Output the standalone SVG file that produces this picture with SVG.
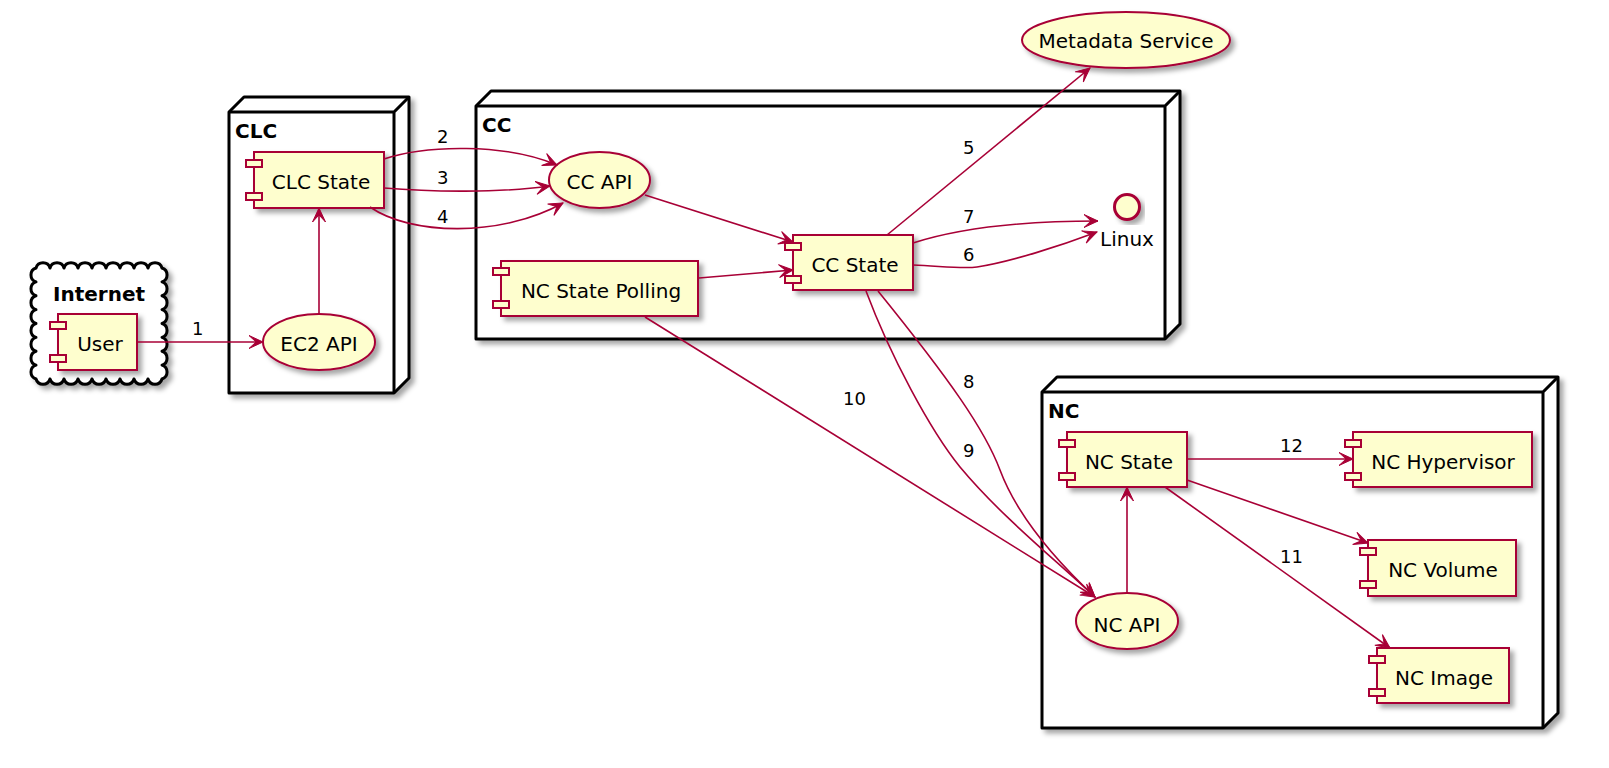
<svg xmlns="http://www.w3.org/2000/svg" width="1609" height="768" viewBox="0 0 1609 768">
<style>
text{font-family:"DejaVu Sans","Liberation Sans",sans-serif;font-size:20px;fill:#000}
.t{text-anchor:middle}
.b{font-weight:bold}
.l{font-size:18px}
.node{fill:#fff;stroke:#000;stroke-width:3;stroke-linejoin:round}
.nl{fill:none;stroke:#000;stroke-width:3}
.c{fill:#FEFECE;stroke:#A80036;stroke-width:2}
.e{fill:none;stroke:#A80036;stroke-width:1.6}
</style>
<defs>
<filter id="sh" x="-20%" y="-20%" width="140%" height="140%">
<feDropShadow dx="4" dy="4" stdDeviation="2.5" flood-color="#000" flood-opacity="0.35"/>
</filter>
<marker id="ah" markerUnits="userSpaceOnUse" markerWidth="16" markerHeight="16" refX="15" refY="8" orient="auto">
<path d="M15,8 L1,1.5 L8,8 L1,14.5 Z" fill="#A80036" stroke="#A80036" stroke-width="1"/>
</marker>
</defs>

<g id="Internet">
<path class="node" filter="url(#sh)" d="M36,268 a7.3,7.3 0 0 1 14,0 a7.3,7.3 0 0 1 14,0 a7.3,7.3 0 0 1 14,0 a7.3,7.3 0 0 1 14,0 a7.3,7.3 0 0 1 14,0 a7.3,7.3 0 0 1 14,0 a7.3,7.3 0 0 1 14,0 a7.3,7.3 0 0 1 14,0 a7.3,7.3 0 0 1 14,0 a7.3,7.3 0 0 1 0,13.875 a7.3,7.3 0 0 1 0,13.875 a7.3,7.3 0 0 1 0,13.875 a7.3,7.3 0 0 1 0,13.875 a7.3,7.3 0 0 1 0,13.875 a7.3,7.3 0 0 1 0,13.875 a7.3,7.3 0 0 1 0,13.875 a7.3,7.3 0 0 1 0,13.875 a7.3,7.3 0 0 1 -14,0 a7.3,7.3 0 0 1 -14,0 a7.3,7.3 0 0 1 -14,0 a7.3,7.3 0 0 1 -14,0 a7.3,7.3 0 0 1 -14,0 a7.3,7.3 0 0 1 -14,0 a7.3,7.3 0 0 1 -14,0 a7.3,7.3 0 0 1 -14,0 a7.3,7.3 0 0 1 -14,0 a7.3,7.3 0 0 1 0,-13.875 a7.3,7.3 0 0 1 0,-13.875 a7.3,7.3 0 0 1 0,-13.875 a7.3,7.3 0 0 1 0,-13.875 a7.3,7.3 0 0 1 0,-13.875 a7.3,7.3 0 0 1 0,-13.875 a7.3,7.3 0 0 1 0,-13.875 a7.3,7.3 0 0 1 0,-13.875 Z"/>
<text class="t b" x="99" y="301">Internet</text>
</g>

<g id="CLC">
<path class="node" filter="url(#sh)" d="M229,112 L244,97 L409,97 L409,378 L394,393 L229,393 Z"/>
<path class="nl" d="M229,112 L394,112 L409,97 M394,112 L394,393"/>
<text class="b" x="235" y="138">CLC</text>
</g>

<g id="CC">
<path class="node" filter="url(#sh)" d="M476,106 L491,91 L1180,91 L1180,324 L1165,339 L476,339 Z"/>
<path class="nl" d="M476,106 L1165,106 L1180,91 M1165,106 L1165,339"/>
<text class="b" x="482" y="132">CC</text>
</g>

<g id="NC">
<path class="node" filter="url(#sh)" d="M1042,392 L1057,377 L1558,377 L1558,713 L1543,728 L1042,728 Z"/>
<path class="nl" d="M1042,392 L1543,392 L1558,377 M1543,392 L1543,728"/>
<text class="b" x="1048" y="418">NC</text>
</g>

<g id="User">
<rect class="c" filter="url(#sh)" x="58" y="314" width="79" height="56"/>
<rect class="c" x="50" y="322" width="16" height="7"/>
<rect class="c" x="50" y="355" width="16" height="7"/>
<text class="t" x="100" y="351">User</text>
</g>

<g id="EC2API">
<ellipse class="c" filter="url(#sh)" cx="319" cy="342" rx="56" ry="28"/>
<text class="t" x="319" y="351">EC2 API</text>
</g>

<g id="CLCState">
<rect class="c" filter="url(#sh)" x="254" y="152" width="130" height="56"/>
<rect class="c" x="246" y="160" width="16" height="7"/>
<rect class="c" x="246" y="193" width="16" height="7"/>
<text class="t" x="321" y="189">CLC State</text>
</g>

<g id="CCAPI">
<ellipse class="c" filter="url(#sh)" cx="599.5" cy="180" rx="50.5" ry="28"/>
<text class="t" x="599.5" y="189">CC API</text>
</g>

<g id="NCStatePolling">
<rect class="c" filter="url(#sh)" x="501" y="261" width="197" height="55"/>
<rect class="c" x="493" y="268" width="16" height="7"/>
<rect class="c" x="493" y="301" width="16" height="7"/>
<text class="t" x="601" y="298">NC State Polling</text>
</g>

<g id="CCState">
<rect class="c" filter="url(#sh)" x="793" y="235" width="120" height="55"/>
<rect class="c" x="785" y="243" width="16" height="7"/>
<rect class="c" x="785" y="276" width="16" height="7"/>
<text class="t" x="855" y="272">CC State</text>
</g>

<g id="Linux">
<circle class="c" filter="url(#sh)" cx="1127" cy="207" r="12.5" style="stroke-width:3"/>
<text class="t" x="1127" y="246">Linux</text>
</g>

<g id="MetadataService">
<ellipse class="c" filter="url(#sh)" cx="1126" cy="40" rx="104" ry="28"/>
<text class="t" x="1126" y="48">Metadata Service</text>
</g>

<g id="NCState">
<rect class="c" filter="url(#sh)" x="1067" y="432" width="120" height="55"/>
<rect class="c" x="1059" y="440" width="16" height="7"/>
<rect class="c" x="1059" y="473" width="16" height="7"/>
<text class="t" x="1129" y="469">NC State</text>
</g>

<g id="NCAPI">
<ellipse class="c" filter="url(#sh)" cx="1127" cy="621" rx="51" ry="28"/>
<text class="t" x="1127" y="632">NC API</text>
</g>

<g id="NCHypervisor">
<rect class="c" filter="url(#sh)" x="1353" y="432" width="179" height="55"/>
<rect class="c" x="1345" y="440" width="16" height="7"/>
<rect class="c" x="1345" y="473" width="16" height="7"/>
<text class="t" x="1443" y="469">NC Hypervisor</text>
</g>

<g id="NCVolume">
<rect class="c" filter="url(#sh)" x="1368" y="540" width="148" height="56"/>
<rect class="c" x="1360" y="548" width="16" height="7"/>
<rect class="c" x="1360" y="581" width="16" height="7"/>
<text class="t" x="1443" y="577">NC Volume</text>
</g>

<g id="NCImage">
<rect class="c" filter="url(#sh)" x="1377" y="648" width="132" height="55"/>
<rect class="c" x="1369" y="656" width="16" height="7"/>
<rect class="c" x="1369" y="689" width="16" height="7"/>
<text class="t" x="1444" y="685">NC Image</text>
</g>

<g id="connectors">
<path class="e" marker-end="url(#ah)" d="M137,342 L263,342"/>
<text class="l" x="192" y="335">1</text>
<path class="e" marker-end="url(#ah)" d="M319,314 L319,208"/>
<path class="e" marker-end="url(#ah)" d="M384,159 C425,145 505,143 557,165"/>
<text class="l" x="437" y="143">2</text>
<path class="e" marker-end="url(#ah)" d="M384,188 C430,192 500,193 550,186"/>
<text class="l" x="437" y="184">3</text>
<path class="e" marker-end="url(#ah)" d="M370,207 C410,235 500,238 563,203"/>
<text class="l" x="437" y="223">4</text>
<path class="e" marker-end="url(#ah)" d="M645,195 L793,242"/>
<path class="e" marker-end="url(#ah)" d="M699,278 L793,270"/>
<path class="e" marker-end="url(#ah)" d="M887,235 L1090,68"/>
<text class="l" x="963" y="154">5</text>
<path class="e" marker-end="url(#ah)" d="M913,243 C960,228 1020,221 1098,221"/>
<text class="l" x="963" y="223">7</text>
<path class="e" marker-end="url(#ah)" d="M913,265 C940,266 962,269 977,267 C1010,262 1060,246 1097,232"/>
<text class="l" x="963" y="261">6</text>
<path class="e" marker-end="url(#ah)" d="M878,291 C950,380 985,430 1000,470 C1015,510 1050,555 1095,597"/>
<text class="l" x="963" y="388">8</text>
<path class="e" marker-end="url(#ah)" d="M866,291 C890,355 930,430 960,467 C1000,515 1050,555 1095,597"/>
<text class="l" x="963" y="457">9</text>
<path class="e" marker-end="url(#ah)" d="M645,317 L1095,597"/>
<text class="l" x="843" y="405">10</text>
<path class="e" marker-end="url(#ah)" d="M1127,593 L1127,487"/>
<path class="e" marker-end="url(#ah)" d="M1187,459 L1353,459"/>
<text class="l" x="1280" y="452">12</text>
<path class="e" marker-end="url(#ah)" d="M1187,480 L1368,543"/>
<path class="e" marker-end="url(#ah)" d="M1165,487 L1390,648"/>
<text class="l" x="1280" y="563">11</text>
</g>
</svg>
